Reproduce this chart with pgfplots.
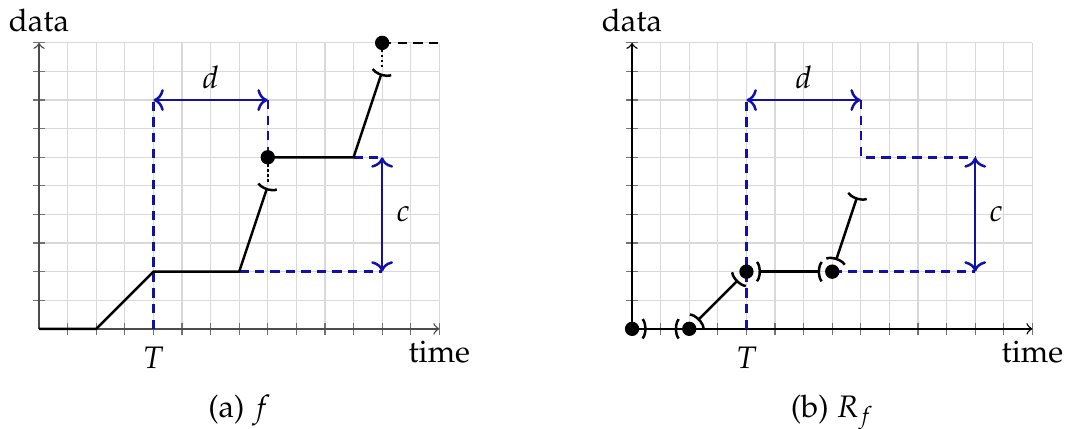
\documentclass[border=0pt]{standalone}
\usepackage[T1]{fontenc}
\usepackage{mathpazo}
\usepackage{pgfplots}
\pgfplotsset{compat=1.18}
\usetikzlibrary{arrows.meta}

\definecolor{guide}{RGB}{17,17,170}

\tikzset{
  guidelabel/.style={text=black, inner sep=0pt},
  paren/.tip={Parenthesis[reversed, length=2.2pt, width=8pt]},
}

\pgfplotsset{
  timeline/.style={
    x=9.2pt, y=9.2pt,
    xmin=0, xmax=14, ymin=0, ymax=10,
    axis lines=middle,
    axis line style={-to, line width=0.45pt},
    xtick={1,...,14}, ytick={1,...,10},
    xticklabels={,,,$T$},
    yticklabels={},
    tick align=center,
    major tick length=4pt,
    tick style={black!55, line width=0.4pt},
    grid=major,
    major grid style={black!15, line width=0.4pt},
    xlabel={time}, ylabel={data},
    xlabel style={at={(rel axis cs:1,0)}, anchor=base, yshift=-10.8pt, inner sep=0pt},
    ylabel style={at={(rel axis cs:0,1)}, anchor=base, yshift=3.7pt, inner sep=0pt},
    xticklabel style={anchor=base, yshift=-10.8pt, inner sep=0pt},
    clip=false,
  },
  guidedash/.style={guide, thick, dash pattern=on 3pt off 2pt},
  guidearrow/.style={guide, thick, <->},
  jumpdash/.style={black, thick, dash pattern=on 3pt off 2pt},
  jumpdots/.style={black, semithick, dash pattern=on 0.8pt off 0.8pt},
  openend/.style={black, thick, -paren},
  openboth/.style={black, thick, paren-paren,
    shorten <=3.2pt, shorten >=3.2pt},
  closedpt/.style={only marks, mark=*, mark size=2.1pt, black},
}

\begin{document}
\begin{tikzpicture}
\useasboundingbox (-12.55pt,-32.17pt) rectangle (331.7pt,105.8pt);

% (a) the original signal f
\begin{axis}[timeline, at={(0,0)}, anchor=origin,
    axis line style={black!70}]
  \addplot[guidedash] coordinates {(4,0) (4,8)};
  \addplot[guidedash] coordinates {(8,8) (8,6)};
  \addplot[guidedash] coordinates {(7,2) (12,2)};
  \addplot[guidedash] coordinates {(11,6) (12,6)};
  \addplot[guidearrow] coordinates {(4,8) (8,8)}
    node[guidelabel, pos=0.5, anchor=base, yshift=3.6pt] {$d$};
  \addplot[guidearrow] coordinates {(12,2) (12,6)}
    node[guidelabel, pos=0.5, anchor=west, xshift=4.2pt] {$c$};

  \addplot[openend] coordinates {(0,0) (2,0) (4,2) (7,2) (8,5)};
  \addplot[jumpdots] coordinates {(8,5.15) (8,6)};
  \addplot[openend] coordinates {(8,6) (11,6) (12,9)};
  \addplot[jumpdots] coordinates {(12,9.15) (12,10)};
  \addplot[jumpdash] coordinates {(12,10) (14,10)};
  \addplot[closedpt] coordinates {(8,6) (12,10)};

  \node[anchor=base, yshift=-28.5pt] at (rel axis cs:0.5,0) {(a) $f$};
\end{axis}

% (b) the derived signal R_f
\begin{axis}[timeline, at={(190.8pt,0)}, anchor=origin,
    axis line style={black}]
  \addplot[guidedash] coordinates {(4,0) (4,8)};
  \addplot[guidedash] coordinates {(8,8) (8,6) (12,6)};
  \addplot[guidedash] coordinates {(7,2) (12,2)};
  \addplot[guidearrow] coordinates {(4,8) (8,8)}
    node[guidelabel, pos=0.5, anchor=base, yshift=3.6pt] {$d$};
  \addplot[guidearrow] coordinates {(12,2) (12,6)}
    node[guidelabel, pos=0.5, anchor=west, xshift=4.2pt] {$c$};

  \addplot[openboth] coordinates {(0,0) (2,0)};
  \addplot[openboth] coordinates {(2,0) (4,2)};
  \addplot[openboth] coordinates {(4,2) (7,2)};
  \addplot[openboth] coordinates {(7,2) (8,5)};
  \addplot[closedpt] coordinates {(0,0) (2,0) (4,2) (7,2)};

  \node[anchor=base, yshift=-28.5pt] at (rel axis cs:0.5,0) {(b) $R_f$};
\end{axis}
\end{tikzpicture}
\end{document}
